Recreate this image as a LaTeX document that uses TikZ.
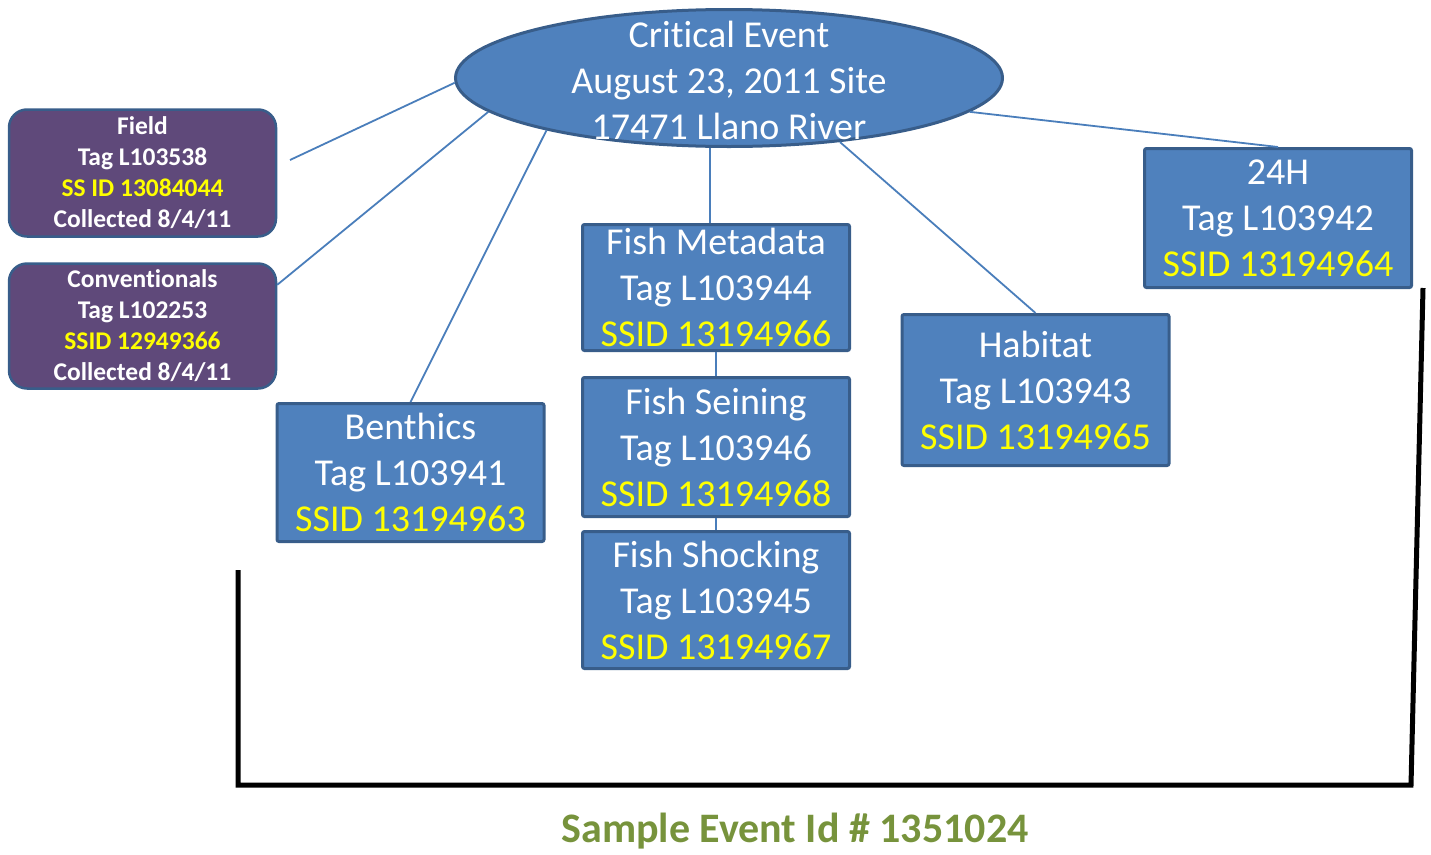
\documentclass[tikz,border=0pt]{standalone}
\usepackage{fontspec}
\setmainfont{Carlito}[RawFeature={-liga;-clig;-dlig;-calt}]
\usetikzlibrary{shapes.geometric}
\definecolor{critblue}{HTML}{4F81BD}
\definecolor{critborder}{HTML}{385D8A}
\definecolor{fieldpurple}{HTML}{5F497A}
\definecolor{linkblue}{HTML}{4A7EBB}
\definecolor{ssidyellow}{HTML}{FFFF00}
\definecolor{titlegreen}{HTML}{77933C}
\newcommand{\ssid}[1]{\textcolor{ssidyellow}{#1}}

\begin{document}
\begin{tikzpicture}[x=1pt, y=-1pt,
  every node/.style={text=white, align=center, inner sep=0pt},
  every edge/.style={draw=linkblue, line width=1.8pt},
  event/.style={ellipse, fill=critblue, draw=critborder, line width=3pt, minimum width=547pt, minimum height=137pt},
  sample/.style={rectangle, rounded corners=2pt, fill=critblue, draw=critborder, line width=3pt, minimum width=267pt, font=\fontsize{38}{46}\selectfont},
  collect/.style={rectangle, rounded corners=18pt, fill=fieldpurple, draw=critborder, line width=2.5pt, minimum width=267pt, font=\bfseries\fontsize{25.5}{31}\selectfont}]
  \useasboundingbox (0,0) rectangle (1431,854);

  % Knoten
  \coordinate (xCrit) at (729, 78);
  \coordinate (xField) at (142.5, 173);
  \coordinate (xConv) at (142.5, 326);
  \coordinate (xBenth) at (410.5, 472.5);
  \coordinate (xMeta) at (716, 287.5);
  \coordinate (xSein) at (716, 447);
  \coordinate (xShock) at (716, 600);
  \coordinate (xHab) at (1035.5, 390);
  \coordinate (x24) at (1278, 218);
  \coordinate (xFieldEnd) at (290, 160);
  \node[event] (nCrit) at (xCrit) {};
  \node[font=\fontsize{38}{46}\selectfont] (nCritText) at (729, 80) {Critical Event\\August 23, 2011 Site\\17471 Llano River};
  \node[collect, minimum height=127pt] (nField) at (xField) {Field\\Tag L103538\\\ssid{SS ID 13084044}\\Collected 8/4/11};
  \node[collect, minimum height=125pt] (nConv) at (xConv) {Conventionals\\Tag L102253\\\ssid{SSID 12949366}\\Collected 8/4/11};
  \node[sample, minimum height=138pt] (nBenth) at (xBenth) {Benthics\\Tag L103941\\\ssid{SSID 13194963}};
  \node[sample, minimum height=126pt] (nMeta) at (xMeta) {Fish Metadata\\Tag L103944\\\ssid{SSID 13194966}};
  \node[sample, minimum height=139pt] (nSein) at (xSein) {Fish Seining\\Tag L103946\\\ssid{SSID 13194968}};
  \node[sample, minimum height=137pt] (nShock) at (xShock) {Fish Shocking\\Tag L103945\\\ssid{SSID 13194967}};
  \node[sample, minimum height=151pt] (nHab) at (xHab) {Habitat\\Tag L103943\\\ssid{SSID 13194965}};
  \node[sample, minimum height=139pt] (n24) at (x24) {24H\\Tag L103942\\\ssid{SSID 13194964}};
  \node[text=titlegreen, font=\bfseries\fontsize{42}{50}\selectfont] (nTitle) at (795, 831) {Sample Event Id \# 1351024};

  \draw (nCrit.181) edge (xFieldEnd);
  \draw (nCrit.188) edge (nConv.17);
  \draw (nCrit.196) edge (nBenth.north);
  \draw (nCrit.255) edge (nCrit.255 |- nMeta.north);
  \draw (nCrit.330) edge (nHab.north);
  \draw (nCrit.352) edge (n24.north);
  \draw (nMeta) edge (nSein);
  \draw (nSein) edge (nShock);

  \coordinate (xBrTop) at (238, 570);
  \coordinate (xBrLeft) at (238, 785);
  \coordinate (xBrRight) at (1411, 785);
  \coordinate (xBrEnd) at (1423, 288);
  \draw[line width=5pt] (xBrTop) -- (xBrLeft) -- (xBrRight) -- (xBrEnd);
\end{tikzpicture}
\end{document}
